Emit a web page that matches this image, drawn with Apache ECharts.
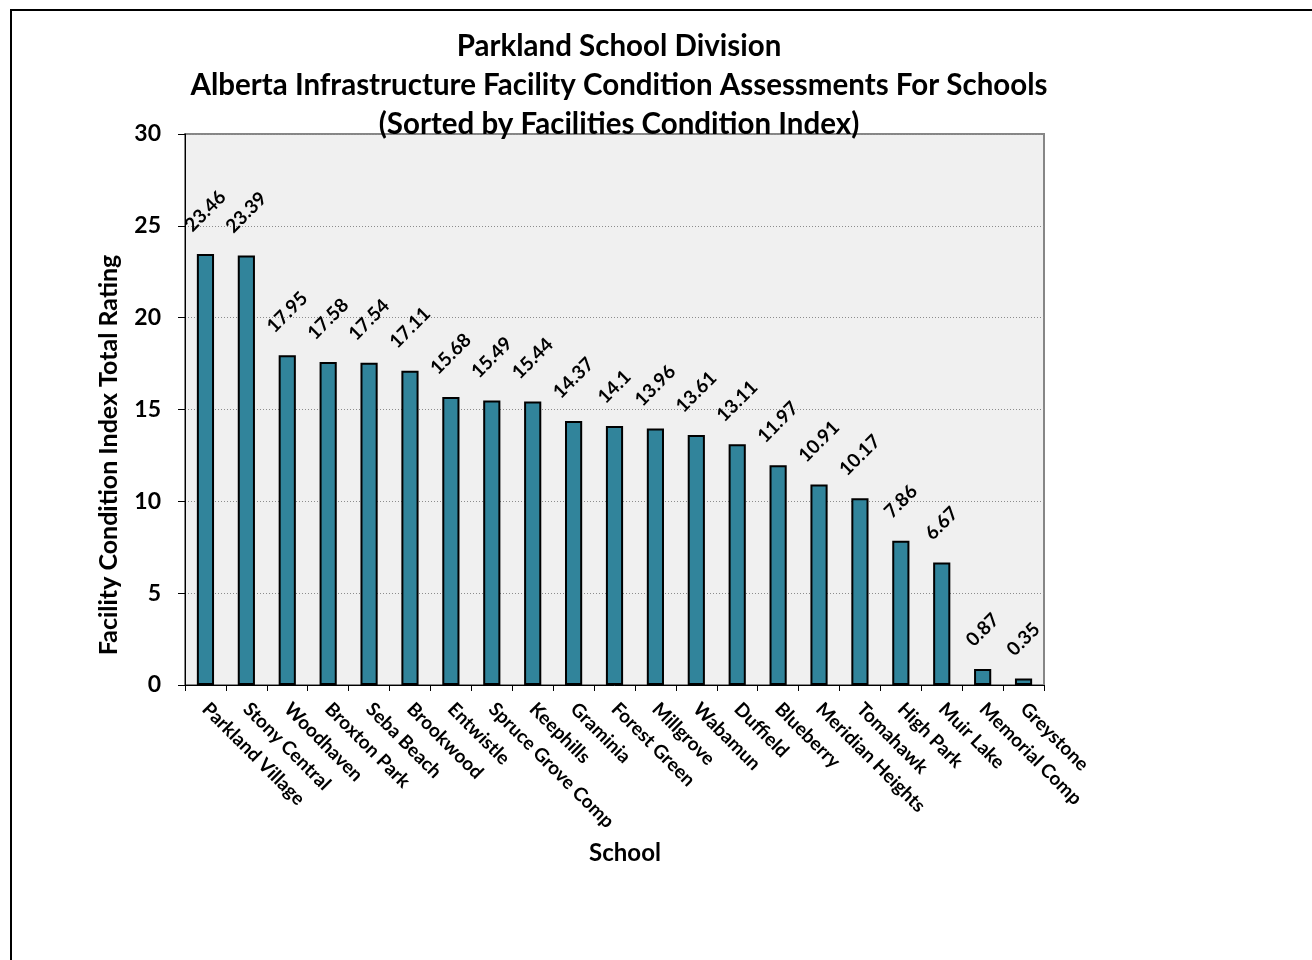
<!DOCTYPE html>
<html>
<head>
<meta charset="utf-8">
<script src="https://cdn.jsdelivr.net/npm/echarts@6/dist/echarts.min.js"></script>
<style>
html,body{margin:0;padding:0;background:#fff;}
#chart{width:1312px;height:960px;}
</style>
</head>
<body>
<div id="chart"></div>
<script>
const titleLines = ['Parkland School Division', 'Alberta Infrastructure Facility Condition Assessments For Schools', '(Sorted by Facilities Condition Index)'];
const schools = ['Parkland Village', 'Stony Central', 'Woodhaven', 'Broxton Park', 'Seba Beach', 'Brookwood', 'Entwistle', 'Spruce Grove Comp', 'Keephills', 'Graminia', 'Forest Green', 'Millgrove', 'Wabamun', 'Duffield', 'Blueberry', 'Meridian Heights', 'Tomahawk', 'High Park', 'Muir Lake', 'Memorial Comp', 'Greystone'];
const fciValues = [23.46, 23.39, 17.95, 17.58, 17.54, 17.11, 15.68, 15.49, 15.44, 14.37, 14.1, 13.96, 13.61, 13.11, 11.97, 10.91, 10.17, 7.86, 6.67, 0.87, 0.35];
const yAxisName = 'Facility Condition Index Total Rating';
const xAxisName = 'School';

const FONT = 'Lato';

// approximate rotated label box so the label sits centered above the bar
function labelDistance(v) {
  const s = String(v);
  let w = 0;
  for (const c of s) w += (c === '.') ? 5.2 : 10.9;
  const h = 19;
  return 19 + (w + h) / (2 * Math.SQRT2);
}

const barData = fciValues.map(v => ({
  value: v,
  label: { distance: labelDistance(v) }
}));

const chart = echarts.init(document.getElementById('chart'));
chart.setOption({
  backgroundColor: '#ffffff',
  animation: false,
  title: {
    text: titleLines.join('\n'),
    left: 614,
    top: 22,
    textAlign: 'center',
    textStyle: {
      fontFamily: FONT, fontWeight: 'bold', fontSize: 29.5, color: '#000', lineHeight: 39
    }
  },
  graphic: [{
    type: 'rect',
    shape: { x: 11, y: 10, width: 1400, height: 1000 },
    style: { fill: 'none', stroke: '#000', lineWidth: 2 },
    z: 100
  }, {
    type: 'text',
    x: 109, y: 455,
    rotation: Math.PI / 2,
    style: {
      text: yAxisName, align: 'center', verticalAlign: 'middle',
      fontFamily: FONT, fontWeight: 'bold', fontSize: 25, fill: '#000'
    }
  }, {
    type: 'text',
    x: 625, y: 853,
    style: {
      text: xAxisName, align: 'center', verticalAlign: 'middle',
      fontFamily: FONT, fontWeight: 'bold', fontSize: 24, fill: '#000'
    }
  }],
  grid: {
    left: 185, right: 268, top: 134, bottom: 275,
    show: true, backgroundColor: '#f0f0f0', borderColor: '#868686', borderWidth: 2
  },
  xAxis: {
    type: 'category',
    data: schools,
    axisLine: { show: true, lineStyle: { color: '#000', width: 1 } },
    axisTick: { show: true, alignWithLabel: false, length: 6, lineStyle: { color: '#000' } },
    axisLabel: {
      rotate: -45, interval: 0, margin: 21,
      fontFamily: FONT, fontWeight: 'bold', fontSize: 19, color: '#000'
    }
  },
  yAxis: {
    type: 'value',
    min: 0, max: 30, interval: 5,
    axisLine: { show: true, lineStyle: { color: '#000', width: 1 } },
    axisTick: { show: true, length: 7, lineStyle: { color: '#000' } },
    axisLabel: { fontFamily: FONT, fontWeight: 'bold', fontSize: 23, color: '#000', margin: 24 },
    splitLine: { show: true, lineStyle: { color: '#8c8c8c', type: [1, 2], width: 1 } }
  },
  series: [{
    type: 'bar',
    data: barData,
    barWidth: '42%',
    itemStyle: { color: '#31849B', borderColor: '#000', borderWidth: 2 },
    label: {
      show: true,
      position: 'top',
      rotate: 45,
      align: 'center',
      verticalAlign: 'middle',
      fontFamily: FONT, fontWeight: 'bold', fontSize: 19, color: '#000'
    }
  }]
});
</script>
</body>
</html>
